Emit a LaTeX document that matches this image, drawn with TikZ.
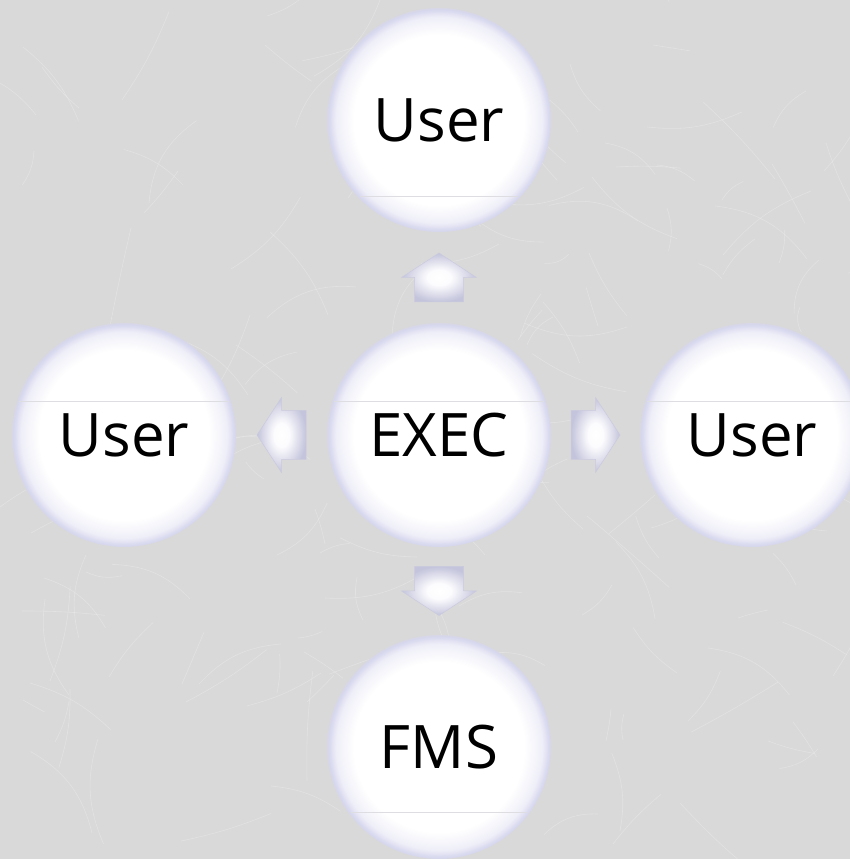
\documentclass[tikz,border=0pt]{standalone}
\usepackage{fontspec}
\setmainfont{Open Sans}
\usetikzlibrary{calc}

\definecolor{paper}{RGB}{217,217,217}
\definecolor{fiber}{RGB}{234,234,234}
\definecolor{rim}{RGB}{214,214,238}
\definecolor{arrowedge}{RGB}{196,196,220}
\definecolor{divider}{RGB}{222,222,226}

% soft white disc with a lavender rim
\pgfdeclareradialshading{bubble}{\pgfpoint{0bp}{0bp}}{%
  color(0bp)=(white); color(19bp)=(white); color(23bp)=(rim!40!white);
  color(24.7bp)=(rim); color(25bp)=(rim!60!paper); color(50bp)=(paper)}
% glow used inside the block arrows
\pgfdeclareradialshading{glow}{\pgfpoint{0bp}{0bp}}{%
  color(0bp)=(white); color(8bp)=(white!92!rim); color(25bp)=(arrowedge);
  color(50bp)=(arrowedge)}

% block arrow centred on #1, turned by #2 degrees
\newcommand\blockarrow[2]{%
  \begin{scope}[shift={(#1)}, rotate=#2]
    \shade[shading=glow, draw=arrowedge!90!white, line width=0.5pt]
      (-24.5,-24.5) -- (0,-24.5) -- (0,-37.5) -- (24.5,0) -- (0,37.5)
      -- (0,24.5) -- (-24.5,24.5) -- cycle;
  \end{scope}}

% faint horizontal reflection line inside a disc
\newcommand\dividerline[2]{%
  \begin{scope}
    \clip (#1.center) circle[radius=110];
    \draw[divider, line width=1pt] ($(#1.center)+(-120,#2)$) -- ($(#1.center)+(120,#2)$);
  \end{scope}}

\tikzset{
  disc/.style={circle, minimum size=224pt, inner sep=0pt, shading=bubble,
    font=\fontsize{60}{62}\selectfont, text=black,
    text height=42.5pt, text depth=0pt},
  fiberline/.style={draw=fiber, line width=0.6pt, opacity=0.55, line cap=round},
}

\begin{document}
\begin{tikzpicture}[x=1pt, y=1pt]
  \useasboundingbox (0,0) rectangle (850,859);
  \clip (0,0) rectangle (850,859);
  \fill[paper] (0,0) rectangle (850,859);

  % paper fibres
  \pgfmathsetseed{17}
  \foreach \i in {1,...,160}{
    \pgfmathsetmacro\xa{random(0,850)}
    \pgfmathsetmacro\ya{random(0,859)}
    \pgfmathsetmacro\ang{random(0,360)}
    \pgfmathsetmacro\len{random(25,110)}
    \pgfmathsetmacro\bnd{random(-25,25)}
    \draw[fiberline] (\xa,\ya) to[bend left=\bnd] ++(\ang:\len);
  }

  % discs
  \node[disc, shade] (top)   at (439,739) {User};
  \node[disc, shade] (exec)  at (439,424) {EXEC};
  \node[disc, shade] (left)  at (124,424) {User};
  \node[disc, shade] (right) at (752,424) {User};
  \node[disc, shade] (fms)   at (439,112) {FMS};

  \dividerline{top}{-77}
  \dividerline{exec}{33}
  \dividerline{left}{33}
  \dividerline{right}{33}
  \dividerline{fms}{-66}

  % arrows from EXEC to the others
  \coordinate (mUp)    at ($(exec)!0.5!(top)$);
  \coordinate (mDown)  at ($(exec)!0.5!(fms)$);
  \coordinate (mLeft)  at ($(exec)!0.5!(left)$);
  \coordinate (mRight) at ($(exec)!0.5!(right)$);
  \blockarrow{mUp}{90}
  \blockarrow{mDown}{-90}
  \blockarrow{mLeft}{180}
  \blockarrow{mRight}{0}
\end{tikzpicture}
\end{document}
